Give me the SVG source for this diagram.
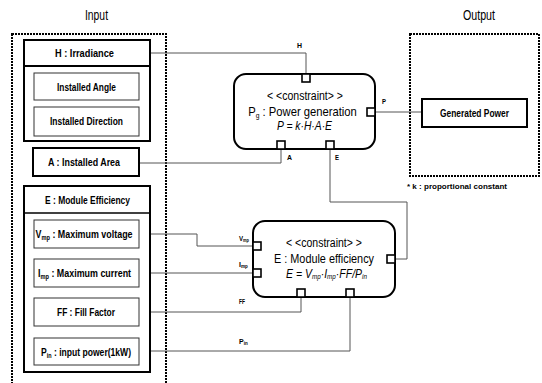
<svg xmlns="http://www.w3.org/2000/svg" width="542" height="383" viewBox="0 0 542 383">
<style>
text{font-family:"Liberation Sans","DejaVu Sans",sans-serif;fill:#000}
.t{font-size:11px;font-weight:bold;text-anchor:middle}
.h{font-size:14px;text-anchor:middle}
.l{font-size:7px;font-weight:bold}
.c{font-size:12.5px;text-anchor:middle}
.f{font-size:12.5px;font-style:italic;text-anchor:middle}
.thick{fill:#fff;stroke:#000;stroke-width:2}
.thin{fill:#fff;stroke:#333;stroke-width:1}
.dot{fill:none;stroke:#000;stroke-width:2;stroke-dasharray:2 1}
.cb{fill:#fff;stroke:#000;stroke-width:2}
.port{fill:#fff;stroke:#000;stroke-width:1.6}
.w{fill:none;stroke:#555;stroke-width:1}
</style>
<rect width="542" height="383" fill="#fff"/>
<text class="h" x="96.5" y="20" textLength="23" lengthAdjust="spacingAndGlyphs">Input</text>
<text class="h" x="479" y="20" textLength="32" lengthAdjust="spacingAndGlyphs">Output</text>
<rect class="dot" x="12" y="34" width="154" height="360"/>
<rect class="dot" x="410" y="34" width="129" height="142"/>
<g id="connectors">
<polyline class="w" points="150,53 306,53 306,76"/>
<polyline class="w" points="139,163 281,163 281,149"/>
<polyline class="w" points="375,112 422,112"/>
<polyline class="w" points="330,149 330,202 407,202 407,259 395,259"/>
<polyline class="w" points="139,234 197,234 197,246 253,246"/>
<polyline class="w" points="139,273 253,273"/>
<polyline class="w" points="139,312 301,312 301,297"/>
<polyline class="w" points="139,351 350,351 350,297"/>
<text class="l" x="297" y="48" textLength="5" lengthAdjust="spacingAndGlyphs">H</text>
<text class="l" x="287" y="160" textLength="5" lengthAdjust="spacingAndGlyphs">A</text>
<text class="l" x="335" y="160" textLength="4" lengthAdjust="spacingAndGlyphs">E</text>
<text class="l" x="382" y="104" textLength="4" lengthAdjust="spacingAndGlyphs">P</text>
<text class="l" transform="translate(239,241) scale(0.88,1)">V<tspan font-size="4.5" dy="1">mp</tspan></text>
<text class="l" x="239" y="267">I<tspan font-size="4.5" dy="1">mp</tspan></text>
<text class="l" x="239" y="304" textLength="6" lengthAdjust="spacingAndGlyphs">FF</text>
<text class="l" x="239" y="344">P<tspan font-size="4.5" dy="1">in</tspan></text>
</g>
<g id="irradiance">
<rect class="thick" x="24" y="40" width="126" height="26"/>
<text class="t" x="84.5" y="57" textLength="59" lengthAdjust="spacingAndGlyphs">H : Irradiance</text>
</g>
<g id="irradiance-group">
<rect class="thick" x="24" y="66" width="126" height="75"/>
</g>
<g id="installed-angle">
<rect class="thin" x="34" y="73" width="105" height="27"/>
<text class="t" x="86.5" y="91" textLength="59" lengthAdjust="spacingAndGlyphs">Installed Angle</text>
</g>
<g id="installed-direction">
<rect class="thin" x="34" y="107" width="105" height="29"/>
<text class="t" x="86.5" y="125" textLength="73" lengthAdjust="spacingAndGlyphs">Installed Direction</text>
</g>
<g id="installed-area">
<rect class="thick" x="33" y="148" width="106" height="28"/>
<text class="t" x="84" y="166" textLength="72" lengthAdjust="spacingAndGlyphs">A : Installed Area</text>
</g>
<g id="module-efficiency-group">
<rect class="thick" x="24" y="186" width="126" height="186"/>
<line x1="24" y1="213" x2="150" y2="213" stroke="#000" stroke-width="1.5"/>
<text class="t" x="87.5" y="204" textLength="85" lengthAdjust="spacingAndGlyphs">E : Module Efficiency</text>
</g>
<g id="vmp">
<rect class="thin" x="34" y="220" width="105" height="28"/>
<text class="t" transform="translate(84,238) scale(0.81,1)">V<tspan font-size="7" dy="2">mp</tspan><tspan dy="-2"> : Maximum voltage</tspan></text>
</g>
<g id="imp">
<rect class="thin" x="34" y="259" width="105" height="28"/>
<text class="t" transform="translate(84.5,277) scale(0.81,1)">I<tspan font-size="7" dy="2">mp</tspan><tspan dy="-2"> : Maximum current</tspan></text>
</g>
<g id="ff">
<rect class="thin" x="34" y="298" width="105" height="28"/>
<text class="t" x="86" y="316" textLength="58" lengthAdjust="spacingAndGlyphs">FF : Fill Factor</text>
</g>
<g id="pin">
<rect class="thin" x="34" y="338" width="105" height="27"/>
<text class="t" transform="translate(86,356) scale(0.78,1)">P<tspan font-size="7" dy="2">in</tspan><tspan dy="-2"> : input power(1kW)</tspan></text>
</g>
<g id="power-generation">
<rect class="cb" x="234" y="74" width="141" height="75" rx="12"/>
<text class="c" x="305" y="100" textLength="76" lengthAdjust="spacingAndGlyphs">&lt; &lt;constraint&gt; &gt;</text>
<text class="c" transform="translate(302.5,115.5) scale(0.9,1)">P<tspan font-size="7.5" dy="2">g</tspan><tspan dy="-2"> : Power generation</tspan></text>
<text class="f" x="304.5" y="130" textLength="55" lengthAdjust="spacingAndGlyphs">P = k·H·A·E</text>
<rect class="port" x="302" y="74" width="8" height="8"/>
<rect class="port" x="367" y="108" width="8" height="8"/>
<rect class="port" x="277" y="141" width="8" height="8"/>
<rect class="port" x="326" y="141" width="8" height="8"/>
</g>
<g id="generated-power">
<rect class="thick" x="422" y="99" width="105" height="28"/>
<text class="t" x="474.5" y="117" textLength="69" lengthAdjust="spacingAndGlyphs">Generated Power</text>
</g>
<text x="407" y="189" font-size="8" font-weight="bold" textLength="100" lengthAdjust="spacingAndGlyphs">* k : proportional constant</text>
<g id="module-efficiency">
<rect class="cb" x="253" y="221" width="142" height="76" rx="12"/>
<text class="c" x="324" y="247" textLength="76" lengthAdjust="spacingAndGlyphs">&lt; &lt;constraint&gt; &gt;</text>
<text class="c" x="324" y="262.5" textLength="100" lengthAdjust="spacingAndGlyphs">E : Module efficiency</text>
<text class="f" transform="translate(326.5,277.5) scale(0.84,1)">E = V<tspan font-size="7.5" dy="1.5">mp</tspan><tspan dy="-1.5">·I</tspan><tspan font-size="7.5" dy="1.5">mp</tspan><tspan dy="-1.5">·FF/P</tspan><tspan font-size="7.5" dy="1.5">in</tspan></text>
<rect class="port" x="253" y="242" width="8" height="8"/>
<rect class="port" x="253" y="269" width="8" height="8"/>
<rect class="port" x="297" y="289" width="8" height="8"/>
<rect class="port" x="346" y="289" width="8" height="8"/>
<rect class="port" x="387" y="255" width="8" height="8"/>
</g>
</svg>
